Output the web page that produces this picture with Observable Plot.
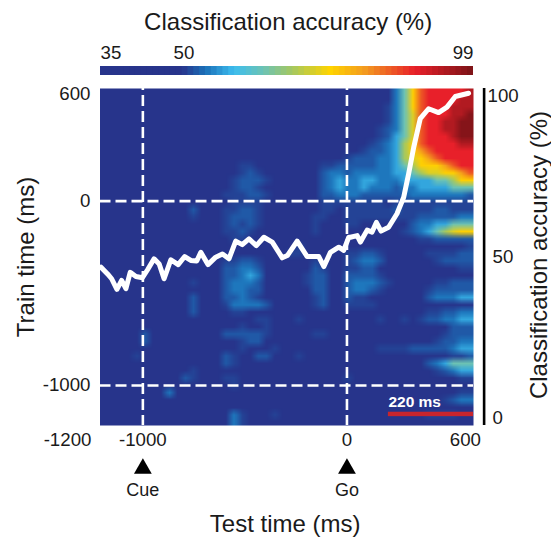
<!DOCTYPE html>
<html><head><meta charset="utf-8">
<style>html,body{margin:0;background:#fff}#c{position:relative;width:551px;height:540px;overflow:hidden}#c svg{position:absolute;left:0;top:0}</style>
<script src="https://cdn.jsdelivr.net/npm/d3@7"></script>
<script src="https://cdn.jsdelivr.net/npm/@observablehq/plot@0.6"></script>
</head><body><div id="c"></div>
<script>
// Heat map levels, one row per 40 ms of train time (top = late), one char per 40 ms of test time.
const leftRows = [
"000000000000000000000000000000","000000000000000000000000000000","000000000000000000000000000000",
"000000000000000000000000000000","000000000000000000000000000000","000000000000000000000000000000",
"000000000000000000000000000000","000000000000000000000000000000","000000000000000000000000000000",
"000000000000000000000000000000",
"000000000000000001100000000112",
"000000000000000001210000000233",
"000000000000000012221000000234",
"000000000000000012210000000234",
"000000000000000111221000000223",
"000000000000000011110000000111",
"000000000002000112210000000110",
"000000000001000122210000001100",
"000000000000000121210000001000",
"000000000000000112100000001000",
"000000000000000011000000000000",
"000000000000000000000000100000",
"000000000000000000000001100000",
"000000000000000112210000001000",
"000000000000000223320000002100",
"000000000000000223430000012200",
"000000000001000233320000012200",
"000000000000000233220000002200",
"000000000002000223210000001200",
"000000000002000133332000001200",
"000000000002000011000000000000",
"000000000000000000011000100000",
"000000000000000001001000000000",
"000002000000000222221000001100",
"000002000000000001220000000000",
"000000000000000001000100000000",
"000010000000000210022000100000",
"000000000000000210000000000000",
"000000000001000000000000000000",
"000000000021000110000000000000",
"000000000000000010000000000000",
"000000003000000000000000000000",
"000000000000000000000000000000",
"000000000000000000000000000000",
"000000000000000031000100000000",
"000000000000000031000000000000"
];
const rightRows = [
"000000358abbbbbc","000000358abbbbcc","000001358abbbccc","000001357abbbccd","000001357abbccdd",
"000012357abbccdd","000012457abbbcdd","000123468abbbbcc","0012234689abbbbb","12223346789abbbb",
"2222334568889abb","233333445677889a","3344333444455688","3343332334444555","3322222233333332",
"1111101111111111","1111112111122111","1111111112222233","1100000023344555","0000000123456788",
"0000000001122222","0000000000000001","1122100000111122","1233200000012222","1122000000000011",
"2222100000000000","2333210000011222","2332100000122222","2110000000233344","1111000000000000",
"0000000000112233","0000100101223344","0000000000000222","0000000000001222","0000000000012233",
"0000111122222344","0000000000000112","0000000000234555","0000000000012344","1000000000000011",
"0000000000000000","0000000000000011","0000000000001233","0000000000000000","0000000000111100",
"0000000000000000"
];
const levelKeys = "0123456789abcd";
const levelValues = [38,50,51.5,53.5,56.5,63,68,72,75,80,85,89,94,98];
const colorStops = [35,49,53,58,63,68,74.5,80.5,89,99];
const colorHexes = ["#27348b","#27348b","#1b6fb8","#3dbdee","#6cc2b4","#a5c860","#ffd400","#f39a20","#e8202a","#7a1317"];
const testDomain = [-1210,620];
const trainDomain = [-1217,611];
const curveTime = [-1205,-1173,-1153,-1127,-1104,-1083,-1062,-1034,-1002,-977,-945,-920,-896,-863,-827,-795,-765,-736,-716,-681,-643,-610,-578,-545,-513,-480,-444,-407,-366,-317,-292,-244,-195,-138,-113,-81,-40,-16,9,17,50,66,99,123,144,167,204,245,278,302,327,359,400,449,490,531,596];
const curveAccuracy = [47,44.9,43.4,40.1,42.9,40.3,45.4,44.1,43.7,46.2,49.6,48,43.4,49.3,47.8,50.3,49.1,48.9,51.6,47.8,50.1,51.1,49.6,55.1,54,55.8,53.7,56.3,54.8,49.9,50.6,55.1,50.3,50.3,47.2,51.6,53.2,52.2,56.3,56.3,56.8,54.8,58.5,57.9,60.9,58.2,59.4,63.6,68.7,75.9,84.2,93.1,96.2,95,96.7,100,101];
const eventTimes = [-1000,0];
const eventNames = ["Cue","Go"];
const barLevels = d3.range(35,99);

const font = "'Liberation Sans', Arial, sans-serif";
const W = 551, H = 540;
const margins = {marginLeft:99.5, marginRight:78, marginTop:88, marginBottom:115};
const style = {background:"transparent", fontFamily:font, color:"#1a1a1a", overflow:"visible"};
const color = {type:"linear", domain:colorStops, range:colorHexes, interpolate:"rgb", clamp:true};
const flat = leftRows.flatMap((r,i) => Array.from((r+rightRows[i]).padEnd(46,"0").slice(0,46), c => levelValues[levelKeys.indexOf(c)]));
const label = d => String(d);

const barPlot = Plot.plot({
  width:W, height:H, style, color, marginLeft:100, marginRight:78, marginTop:66, marginBottom:465,
  x:{domain:[35,99], axis:null},
  marks:[
    Plot.rect(barLevels,{x1:d=>d,x2:d=>Math.min(d+1.3,99),fill:d=>d+0.5}),
    Plot.text(["Classification accuracy (%)"],{x:()=>67.2,frameAnchor:"top",lineAnchor:"middle",dy:-44,fontSize:24}),
    Plot.text(["35"],{x:()=>35,frameAnchor:"top",lineAnchor:"middle",dy:-13,textAnchor:"start",fontSize:18.7}),
    Plot.text(["50"],{x:()=>50,frameAnchor:"top",lineAnchor:"middle",dy:-13,dx:-4,fontSize:18.7}),
    Plot.text(["99"],{x:()=>99,frameAnchor:"top",lineAnchor:"middle",dy:-13,textAnchor:"end",fontSize:18.7})
  ]
});

const mainPlot = Plot.plot({
  width:W, height:H, style, color, ...margins,
  x:{domain:testDomain},
  y:{domain:trainDomain},
  marks:[
    Plot.raster(flat,{width:46,height:46,x1:testDomain[0],x2:testDomain[1],y1:trainDomain[1],y2:trainDomain[0],imageRendering:"auto"}),
    Plot.ruleX(eventTimes,{stroke:"#fff",strokeWidth:2.6,strokeDasharray:"11,5",strokeDashoffset:-7}),
    Plot.ruleY([0,-1000],{stroke:"#fff",strokeWidth:2.6,strokeDasharray:"11,5"}),
    Plot.axisX([-1000,0],{tickSize:0,tickPadding:7,fontSize:18.7,tickFormat:label,label:null}),
    Plot.axisX([600],{tickSize:0,tickPadding:7,fontSize:18.7,dx:-4,tickFormat:label,label:null}),
    Plot.axisX([-1200],{tickSize:0,tickPadding:7,fontSize:18.7,dx:-34.5,tickFormat:label,label:null}),
    Plot.axisY([0,-1000],{tickSize:0,tickPadding:9.5,fontSize:18.7,tickFormat:label,label:null}),
    Plot.axisY([600],{tickSize:0,tickPadding:9.5,fontSize:18.7,dy:3,tickFormat:label,label:null}),
    Plot.dot(eventTimes,{x:d=>d,frameAnchor:"bottom",dy:43,symbol:"triangle",r:6.6,fill:"#000",stroke:null}),
    Plot.text(eventNames,{x:(d,i)=>eventTimes[i],frameAnchor:"bottom",lineAnchor:"middle",dy:65,fontSize:18}),
    Plot.text(["Test time (ms)"],{x:()=>-303,frameAnchor:"bottom",lineAnchor:"middle",dy:99,fontSize:24}),
    Plot.text(["Train time (ms)"],{frameAnchor:"left",textAnchor:"middle",dx:-73.5,dy:0,rotate:-90,fontSize:24}),
    Plot.rect([203],{x1:d=>d,x2:()=>620,y1:()=>-1145,y2:()=>-1169,fill:"#c8252d"}),
    Plot.text(["220 ms"],{x:()=>203,y:()=>-1092,textAnchor:"start",fill:"#fff",fontWeight:"bold",fontSize:15.5})
  ]
});

const overlayPlot = Plot.plot({
  width:W, height:H, style, ...margins,
  x:{domain:testDomain, axis:null},
  y:{domain:[0,100], range:[418,96]},
  marks:[
    Plot.line(curveTime.map((t,i)=>[t,curveAccuracy[i]]),{x:d=>d[0],y:d=>d[1],stroke:"#fff",strokeWidth:5,strokeLinejoin:"round",strokeLinecap:"round"}),
    Plot.ruleX([672],{y1:()=>-2.2,y2:()=>102.5,stroke:"#000",strokeWidth:2.6}),
    Plot.axisY([0,50],{anchor:"right",tickSize:0,tickPadding:19,fontSize:18.7,tickFormat:label,label:null}),
    Plot.axisY([100],{anchor:"right",tickSize:0,tickPadding:14,fontSize:18.7,tickFormat:label,label:null}),
    Plot.text(["Classification accuracy (%)"],{frameAnchor:"right",textAnchor:"middle",dx:65.5,dy:-2,rotate:-90,fontSize:24})
  ]
});
document.getElementById("c").append(mainPlot, overlayPlot, barPlot);
</script></body></html>
